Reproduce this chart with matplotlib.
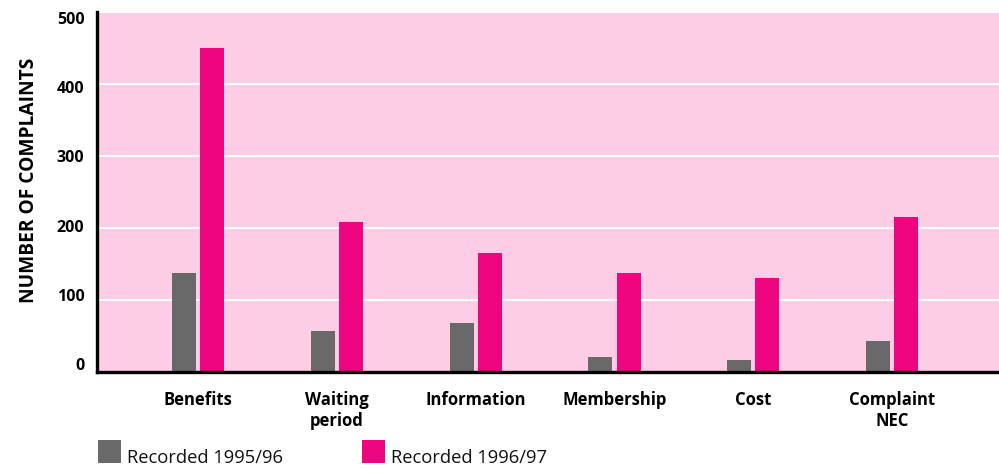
import matplotlib
matplotlib.use("Agg")
import matplotlib.pyplot as plt
import matplotlib.transforms as mtransforms
from matplotlib.patches import Rectangle
import numpy as np

categories = ["Benefits", "Waiting\nperiod", "Information", "Membership", "Cost", "Complaint\nNEC"]
recorded_1995_96 = [138, 57, 68, 21, 16, 43]
recorded_1996_97 = [450, 209, 165, 137, 131, 215]
series_labels = ["Recorded 1995/96", "Recorded 1996/97"]
series_colors = ["#696969", "#EE057F"]
yticks = [0, 100, 200, 300, 400, 500]

W, H = 999, 469
fig = plt.figure(figsize=(W / 100, H / 100), dpi=100)
fig.patch.set_facecolor("white")

# axes rectangle in pixel terms
left, right, top, bottom = 97, 999, 12, 372
ax = fig.add_axes([left / W, (H - bottom) / H, (right - left) / W, (bottom - top) / H])
ax.set_facecolor("#FDCCE5")

x = np.arange(len(categories))
bw = 0.173
off = 0.101
ax.bar(x - off, recorded_1995_96, width=bw, color=series_colors[0], zorder=3)
ax.bar(x + off, recorded_1996_97, width=bw, color=series_colors[1], zorder=3)

ax.set_xlim(-0.728, 5.77)
ax.set_ylim(0, 497)

ax.set_yticks(yticks)
ax.set_yticklabels([str(t) for t in yticks], fontfamily="Open Sans",
                   fontweight="bold", fontsize=11.5)
ax.tick_params(axis="y", length=0, pad=9)
# value labels sit on a slightly tighter scale than the gridlines
for t, lab in zip(yticks, ax.get_yticklabels()):
    dy = (6 - 14 * (1 - t / 500)) / 100.0
    lab.set_transform(lab.get_transform()
                      + mtransforms.ScaledTranslation(0, -dy, fig.dpi_scale_trans))

ax.set_xticks(x)
ax.set_xticklabels(categories, fontfamily="Open Sans", fontweight="bold",
                   fontsize=12, linespacing=1.2, va="top")
ax.tick_params(axis="x", length=0, pad=14)

ax.yaxis.grid(True, color="white", linewidth=1.5, zorder=1)
ax.set_axisbelow(True)

for s in ("top", "right"):
    ax.spines[s].set_visible(False)
for s in ("left", "bottom"):
    ax.spines[s].set_linewidth(2.4)
    ax.spines[s].set_color("black")
    ax.spines[s].set_zorder(5)

ax.set_ylabel("NUMBER OF COMPLAINTS", fontfamily="Open Sans", fontweight="bold",
              fontsize=13.8)
ax.yaxis.set_label_coords(-0.0645, 0.533)

# legend: coloured squares with text
legend_x = [98, 362]
for lx, lab, col in zip(legend_x, series_labels, series_colors):
    fig.add_artist(Rectangle((lx / W, (H - 463) / H), 23 / W, 23 / H,
                             transform=fig.transFigure, color=col, lw=0))
    fig.text((lx + 29) / W, (H - 463) / H, lab, fontfamily="Open Sans",
             fontsize=13.2, va="baseline", ha="left", color="#111111")

fig.savefig("out.png", dpi=100)
